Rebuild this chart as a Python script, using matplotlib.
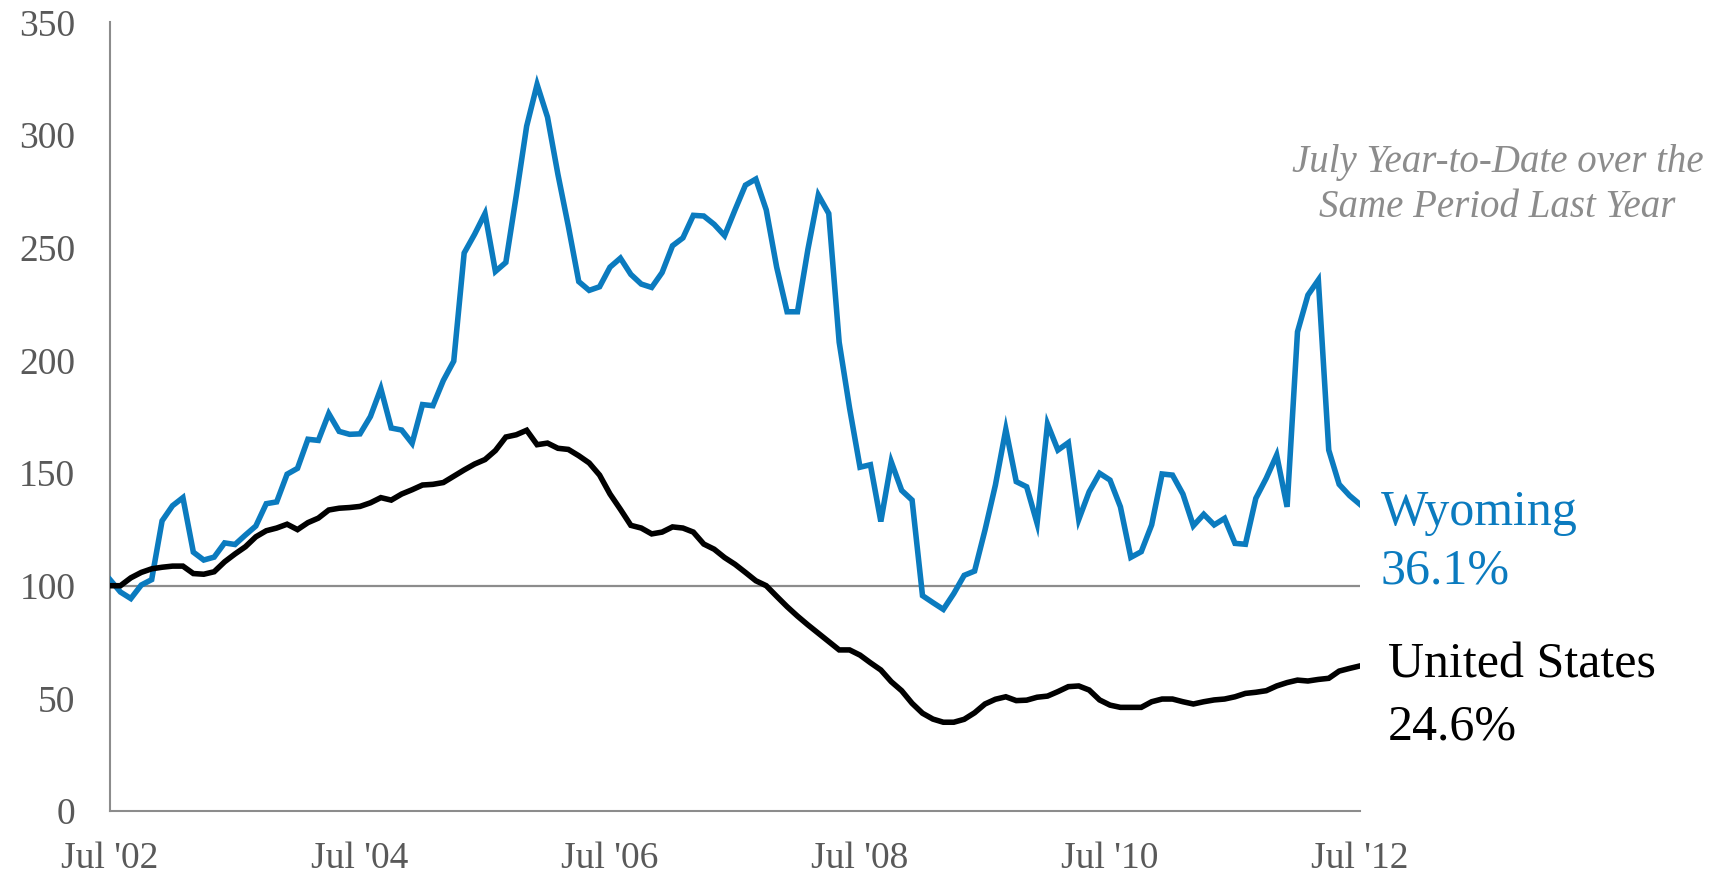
import matplotlib
matplotlib.use("Agg")
import matplotlib.pyplot as plt

# monthly index values, Jul 2002 .. Jul 2012 (121 months)
wyoming = [102.7, 97.2, 94.3, 100.3, 102.7, 128.8, 135.5, 139.1, 114.9, 111.4,
           112.7, 119.0, 118.3, 122.5, 126.5, 136.4, 137.2, 149.5, 152.1, 165.0,
           164.5, 176.4, 168.5, 167.2, 167.4, 175.1, 187.5, 170.0, 169.1, 163.2,
           180.4, 179.9, 191.1, 199.7, 247.7, 256.0, 265.2, 239.5, 243.5, 273.1,
           304.0, 322.5, 308.0, 282.6, 259.6, 235.0, 231.1, 232.7, 241.4, 245.4,
           238.2, 233.9, 232.4, 239.0, 250.9, 254.4, 264.4, 264.1, 260.4, 255.4,
           266.8, 277.8, 280.5, 266.8, 241.4, 221.6, 221.6, 249.3, 273.4, 265.2,
           208.1, 178.8, 152.6, 153.7, 128.5, 155.0, 142.3, 138.0, 95.6, 92.5,
           89.5, 96.5, 104.6, 106.5, 124.7, 144.7, 169.4, 146.2, 143.9, 127.7,
           171.8, 160.2, 163.5, 129.4, 141.7, 149.9, 146.9, 135.0, 112.6, 115.1,
           127.0, 149.6, 149.1, 140.7, 126.6, 131.7, 127.0, 129.9, 118.8, 118.4,
           138.8, 147.7, 158.0, 135.0, 212.7, 229.0, 235.7, 160.2, 145.0, 140.0,
           136.1]
united_states = [100.0, 100.0, 103.5, 105.9, 107.5, 108.2, 108.7, 108.7, 105.4, 105.1,
                 106.2, 110.6, 114.1, 117.3, 121.7, 124.4, 125.6, 127.3, 124.9, 128.0,
                 130.0, 133.6, 134.4, 134.7, 135.2, 136.8, 139.1, 138.0, 140.7, 142.6,
                 144.7, 145.0, 145.8, 148.6, 151.4, 154.0, 156.0, 160.0, 166.0, 167.0,
                 169.0, 162.6, 163.3, 161.0, 160.5, 157.7, 154.5, 149.1, 140.7, 133.9,
                 126.8, 125.6, 123.0, 123.8, 126.1, 125.6, 123.8, 118.5, 116.2, 112.5,
                 109.5, 105.9, 102.2, 100.0, 95.3, 90.7, 86.5, 82.6, 78.9, 75.2,
                 71.5, 71.5, 69.2, 65.8, 62.6, 57.4, 53.4, 47.8, 43.4, 40.8,
                 39.4, 39.4, 40.7, 43.6, 47.5, 49.6, 50.7, 49.0, 49.2, 50.5,
                 51.0, 53.0, 55.2, 55.5, 53.7, 49.3, 47.0, 46.0, 46.0, 46.0,
                 48.5, 49.7, 49.7, 48.5, 47.5, 48.5, 49.3, 49.7, 50.7, 52.2,
                 52.7, 53.4, 55.5, 57.0, 58.1, 57.7, 58.4, 58.9, 62.1, 63.3,
                 64.4]
months = list(range(len(wyoming)))
tick_months = [0, 24, 48, 72, 96, 120]
tick_labels = ["Jul '02", "Jul '04", "Jul '06", "Jul '08", "Jul '10", "Jul '12"]
y_ticks = [0, 50, 100, 150, 200, 250, 300, 350]

blue = '#0b7bbf'
gray = '#595959'
plt.rcParams['font.family'] = ['Liberation Serif', 'DejaVu Serif']

fig = plt.figure(figsize=(17.23, 8.84), dpi=100)
ax = fig.add_axes([110 / 1723, 73 / 884, 1250 / 1723, 788.5 / 884])

ax.axhline(100, color='#8c8c8c', lw=1.6, zorder=1)
ax.plot(months, wyoming, color=blue, lw=4.0, solid_joinstyle='miter', zorder=3)
ax.plot(months, united_states, color='black', lw=4.0, solid_joinstyle='miter', zorder=3)

ax.set_xlim(0, 120)
ax.set_ylim(0, 350)
ax.set_xticks(tick_months)
ax.set_xticklabels(tick_labels)
ax.set_yticks(y_ticks)
ax.tick_params(length=0, labelsize=27, labelcolor=gray)
ax.tick_params(axis='y', pad=25)
ax.tick_params(axis='x', pad=22)
for s in ['top', 'right']:
    ax.spines[s].set_visible(False)
for s in ['left', 'bottom']:
    ax.spines[s].set_color('#8c8c8c')
    ax.spines[s].set_linewidth(1.5)

ax.text(133.2, 278, "July Year-to-Date over the\nSame Period Last Year",
        ha='center', va='center', multialignment='center', fontsize=28,
        style='italic', color='#8c8c8c', linespacing=1.28, clip_on=False)
ax.text(122, 132.3, "Wyoming", color=blue, fontsize=36, va='center', clip_on=False)
ax.text(122, 106.5, "36.1%", color=blue, fontsize=36, va='center', clip_on=False)
ax.text(122.7, 64.8, "United States", color='black', fontsize=36, va='center', clip_on=False)
ax.text(122.7, 37.3, "24.6%", color='black', fontsize=36, va='center', clip_on=False)

fig.savefig('out.png', dpi=100)
